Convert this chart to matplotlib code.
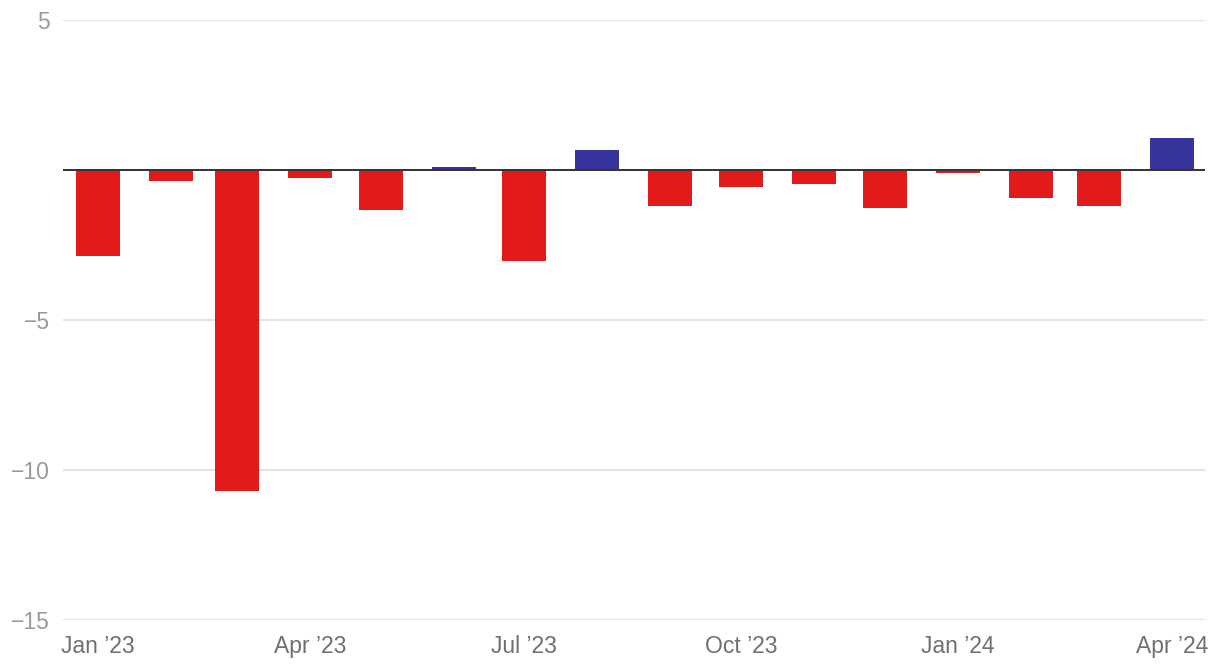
import datetime as dt
import matplotlib
matplotlib.use('Agg')
import matplotlib.pyplot as plt
import matplotlib.dates as mdates

plt.rcParams['font.family'] = ['Liberation Sans', 'DejaVu Sans']

months = [dt.date(2023, m, 1) for m in range(1, 13)] + [dt.date(2024, m, 1) for m in range(1, 5)]
values = [-2.87, -0.37, -10.7, -0.26, -1.33, 0.1, -3.03, 0.67,
          -1.2, -0.57, -0.47, -1.27, -0.09, -0.93, -1.2, 1.07]
tick_dates = [dt.date(2023, 1, 1), dt.date(2023, 4, 1), dt.date(2023, 7, 1),
              dt.date(2023, 10, 1), dt.date(2024, 1, 1), dt.date(2024, 4, 1)]
tick_labels = ['Jan \u201923', 'Apr \u201923', 'Jul \u201923', 'Oct \u201923', 'Jan \u201924', 'Apr \u201924']
y_ticks = [5, 0, -5, -10, -15]

RED, BLUE = '#e31a1c', '#35359b'
colors = [BLUE if v > 0 else RED for v in values]

fig = plt.figure(figsize=(12.2, 6.72), dpi=100)
ax = fig.add_axes([0.0516, 0.0774, 0.936, 0.8928])

ax.bar(months, values, width=18.7, color=colors, zorder=2)
ax.axhline(0, color='#333333', lw=1.4, zorder=3)

ax.set_ylim(-15, 5)
ax.set_xlim(dt.date(2022, 12, 17), dt.date(2024, 4, 15))
ax.set_yticks(y_ticks)
ax.set_yticklabels(['5', '', '\u22125', '\u221210', '\u221215'])
ax.yaxis.grid(True, color='#e3e3e3', lw=1.5, zorder=0)
ax.set_xticks([mdates.date2num(d) for d in tick_dates])
ax.set_xticklabels(tick_labels)

for s in ax.spines.values():
    s.set_visible(False)
ax.tick_params(axis='both', length=0)
ax.tick_params(axis='y', labelsize=16.5, labelcolor='#9a9a9a', pad=9.5)
ax.tick_params(axis='x', labelsize=16.5, labelcolor='#707070', pad=10.5)

fig.savefig('out.png', dpi=100)
